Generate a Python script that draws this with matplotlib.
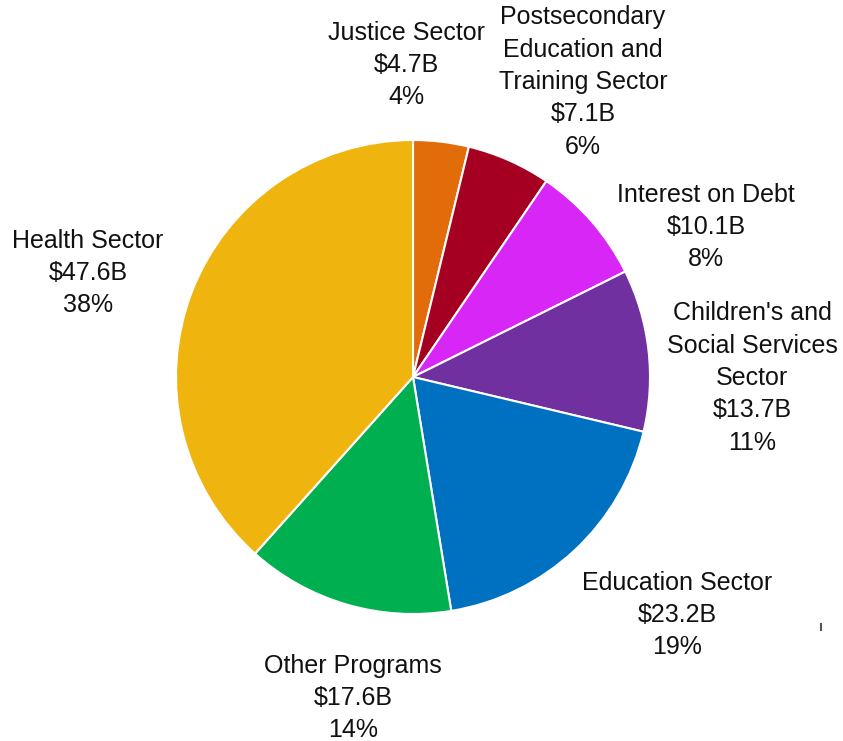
import matplotlib.pyplot as plt

plt.rcParams['font.family'] = ['Liberation Sans', 'DejaVu Sans']

sectors = ["Justice Sector", "Postsecondary\nEducation and\nTraining Sector",
           "Interest on Debt", "Children's and\nSocial Services\nSector",
           "Education Sector", "Other Programs", "Health Sector"]
spending = [4.7, 7.1, 10.1, 13.7, 23.2, 17.6, 47.6]  # $ billions
shares = [4, 6, 8, 11, 19, 14, 38]  # per cent
colors = ['#E36C0A', '#A50021', '#D726F5', '#7030A0', '#0070C0', '#00B050', '#F0B40F']

# label centres in pixel space (x, y from top)
label_pos = [(406, 65), (583, 82), (706, 227), (752, 378),
             (677, 615), (353, 698), (88, 273)]

W, H = 843, 741
fig = plt.figure(figsize=(W / 100, H / 100), dpi=100)
ax = fig.add_axes([0, 0, 1, 1])

ax.pie(spending, colors=colors, startangle=90, counterclock=False,
       center=(413, H - 377), radius=237,
       wedgeprops=dict(edgecolor='white', linewidth=1.5))

# pie() resets the limits, so set them afterwards
ax.set_xlim(0, W)
ax.set_ylim(0, H)
ax.set_aspect('equal')
ax.axis('off')

for name, val, pct, (px, py) in zip(sectors, spending, shares, label_pos):
    ax.text(px, H - py, f"{name}\n${val}B\n{pct}%", ha='center', va='center',
            fontsize=18, linespacing=1.44, color='#111111')

# small stray tick at the lower right
ax.plot([820.5, 820.5], [H - 624, H - 630], color='#555555', lw=1.5)

fig.savefig('out.png', dpi=100)
